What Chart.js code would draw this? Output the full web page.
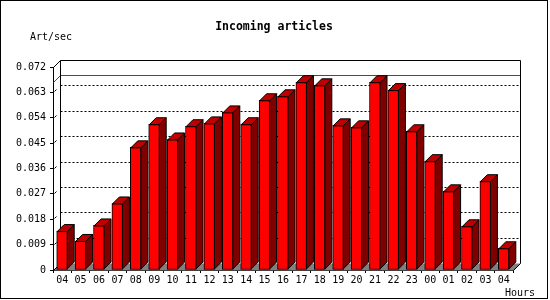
<!DOCTYPE html>
<html>
<head>
<meta charset="utf-8">
<script src="https://cdn.jsdelivr.net/npm/chart.js@4"></script>
<style>
  body { margin: 0; background: #fff; }
  canvas { display: block; }
</style>
</head>
<body>
<canvas id="chart" width="550" height="300"></canvas>
<script>
// categories (hour of day)
const hours = ['04', '05', '06', '07', '08', '09', '10', '11', '12', '13', '14', '15', '16',
  '17', '18', '19', '20', '21', '22', '23', '00', '01', '02', '03', '04'];

// incoming articles per second
const artPerSec = [0.0138, 0.0103, 0.0158, 0.0236, 0.0435, 0.0517, 0.0463, 0.0510, 0.0520,
  0.0559, 0.0517, 0.0602, 0.0616, 0.0666, 0.0655, 0.0513, 0.0506, 0.0666, 0.0638, 0.0492,
  0.0386, 0.0279, 0.0155, 0.0315, 0.0077];

const yMax = 0.072;
const yStep = 0.009;

const DX = 7, DY = 7; // 3d depth
const monoFont = '"DejaVu Sans Mono", monospace';

function line(ctx, x1, y1, x2, y2) {
  ctx.beginPath();
  ctx.moveTo(x1, y1);
  ctx.lineTo(x2, y2);
  ctx.stroke();
}

// back wall, floor, grid and max line, then the 3d faces of the bars
const bars3d = {
  id: 'bars3d',
  beforeDatasetsDraw(chart) {
    const { ctx, chartArea: a, scales: { y } } = chart;
    const l = Math.round(a.left) + 0.5, r = Math.round(a.right) + 0.5;
    const t = Math.round(a.top) + 0.5, b = Math.round(a.bottom) + 0.5;
    ctx.save();
    ctx.lineWidth = 1;

    // floor
    ctx.fillStyle = '#808080';
    ctx.beginPath();
    ctx.moveTo(l, b);
    ctx.lineTo(r, b);
    ctx.lineTo(r + DX, b - DY);
    ctx.lineTo(l + DX, b - DY);
    ctx.closePath();
    ctx.fill();

    // dotted grid on back wall
    ctx.strokeStyle = '#000';
    ctx.setLineDash([2, 2]);
    y.ticks.forEach(tk => {
      if (tk.value <= 0 || tk.value >= yMax - 1e-9) return;
      const py = Math.round(y.getPixelForValue(tk.value) - DY) + 0.5;
      line(ctx, l + DX, py, r + DX, py);
    });
    ctx.setLineDash([]);

    // max value line
    const maxV = Math.max(...artPerSec);
    const pm = Math.round(y.getPixelForValue(maxV)) + 0.5;
    ctx.strokeStyle = '#ff0000';
    line(ctx, l + DX, pm - DY, r + DX, pm - DY);
    line(ctx, l, pm, l + DX, pm - DY);

    // wall outlines
    ctx.strokeStyle = '#000';
    ctx.beginPath();
    ctx.moveTo(l + DX, b - DY);
    ctx.lineTo(l + DX, t - DY);
    ctx.lineTo(r + DX, t - DY);
    ctx.lineTo(r + DX, b - DY);
    ctx.lineTo(r, b);
    ctx.stroke();
    line(ctx, l, t, l + DX, t - DY);
    line(ctx, l, b, l + DX, b - DY);

    // little slanted ticks on the left wall
    y.ticks.forEach(tk => {
      if (tk.value <= 0 || tk.value >= yMax - 1e-9) return;
      const py = Math.round(y.getPixelForValue(tk.value)) + 0.5;
      line(ctx, l + 1, py - 1, l + 3, py - 3);
    });
    ctx.restore();
  },
  afterDatasetsDraw(chart) {
    const { ctx } = chart;
    ctx.save();
    ctx.lineWidth = 1;
    ctx.strokeStyle = '#000';
    chart.getDatasetMeta(0).data.forEach(bar => {
      const left = bar.x - bar.width / 2 + 0.5;
      const right = bar.x + bar.width / 2 - 0.5;
      const top = bar.y + 0.5;
      const base = bar.base - 0.5;
      // side
      ctx.fillStyle = '#800000';
      ctx.beginPath();
      ctx.moveTo(right, top);
      ctx.lineTo(right + DX, top - DY);
      ctx.lineTo(right + DX, base - DY);
      ctx.lineTo(right, base);
      ctx.closePath();
      ctx.fill();
      ctx.stroke();
      // top
      ctx.fillStyle = '#c00000';
      ctx.beginPath();
      ctx.moveTo(left, top);
      ctx.lineTo(left + DX, top - DY);
      ctx.lineTo(right + DX, top - DY);
      ctx.lineTo(right, top);
      ctx.closePath();
      ctx.fill();
      ctx.stroke();
    });
    ctx.restore();
  },
  afterDraw(chart) {
    const { ctx } = chart;
    ctx.save();
    ctx.fillStyle = '#000';
    ctx.textBaseline = 'middle';
    ctx.font = 'bold 11.5px ' + monoFont;
    ctx.textAlign = 'center';
    ctx.fillText('Incoming articles', 274, 27);
    ctx.font = '10px ' + monoFont;
    ctx.textAlign = 'left';
    ctx.fillText('Art/sec', 30, 37);
    ctx.fillText('Hours', 505, 293);
    // frame
    ctx.strokeStyle = '#000';
    ctx.lineWidth = 1;
    ctx.strokeRect(0.5, 0.5, 547, 298);
    ctx.restore();
  }
};

new Chart(document.getElementById('chart'), {
  type: 'bar',
  data: {
    labels: hours,
    datasets: [{
      label: 'Art/sec',
      data: artPerSec,
      backgroundColor: '#ff0000',
      borderColor: '#000',
      borderWidth: 1,
      borderSkipped: false,
      barThickness: 11
    }]
  },
  options: {
    responsive: false,
    animation: false,
    events: [],
    layout: { padding: { top: 67, right: 37, left: 0, bottom: 0 } },
    plugins: {
      legend: { display: false },
      title: { display: false },
      tooltip: { enabled: false }
    },
    scales: {
      x: {
        afterFit(s) { s.height = 30; },
        grid: { drawOnChartArea: false, tickLength: 3, color: '#000', offset: true },
        border: { color: '#000' },
        ticks: { color: '#000', font: { family: monoFont, size: 10 }, padding: 1, maxRotation: 0, autoSkip: false }
      },
      y: {
        min: 0,
        max: yMax,
        afterFit(s) { s.width = 53; },
        grid: { drawOnChartArea: false, tickLength: 3, color: '#000' },
        border: { color: '#000' },
        ticks: {
          stepSize: yStep,
          color: '#000',
          padding: 4,
          font: { family: monoFont, size: 10 },
          callback: v => v === 0 ? '0' : v.toFixed(3)
        }
      }
    }
  },
  plugins: [bars3d]
});
</script>
</body>
</html>
